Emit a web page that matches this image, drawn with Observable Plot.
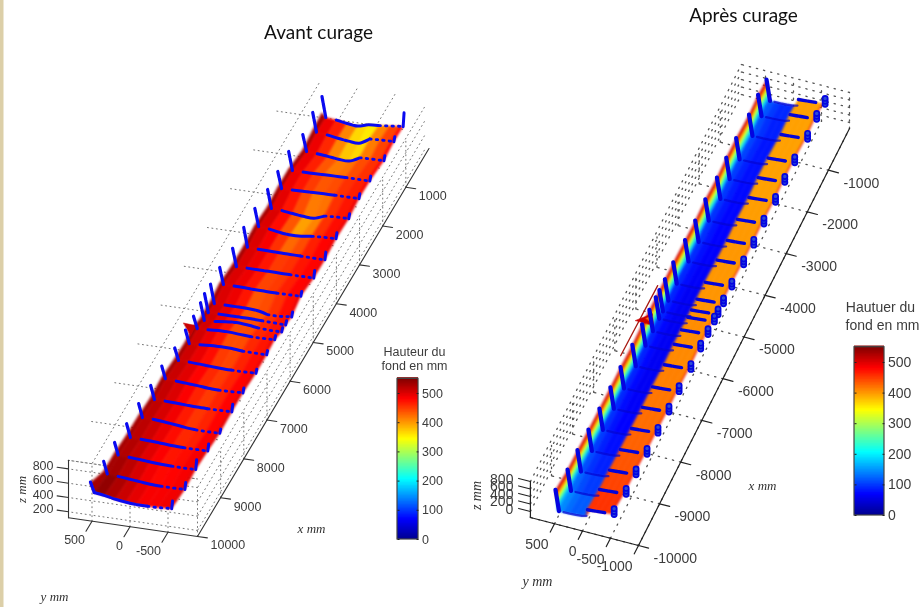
<!DOCTYPE html>
<html><head><meta charset="utf-8">
<script src="https://cdn.jsdelivr.net/npm/d3@7"></script>
<script src="https://cdn.jsdelivr.net/npm/@observablehq/plot@0.6"></script>
<style>
html,body{margin:0;padding:0;background:#fff;overflow:hidden}
svg{display:block;filter:blur(.35px)}
.surf{filter:blur(.8px)}
</style></head><body><div id="chart"></div>
<script>
// ---------- data (mm) ----------
const stationX = [0,400,830,1440,1910,2350,2900,3380,3860,4420,4815,5075,5248,5550,5897,6360,6920,7400,7920,8440,8960,9430,10000];

// "Avant curage": bed level at each station, across the channel
const avantY = [470,330,190,50,-90,-230,-370,-510];
const avantZ = [
[340,325,300,285,325,335,350,368],[348,335,310,292,283,365,372,376],[315,305,290,272,267,335,340,343],
[380,380,382,385,388,390,390,390],[383,385,388,392,395,398,398,398],[343,335,315,298,293,345,355,357],
[389,375,350,335,340,360,370,375],[355,352,350,348,345,345,340,340],[350,350,348,348,346,345,345,345],
[403,403,400,395,392,390,392,395],[351,351,351,351,340,305,300,320],[366,366,366,366,366,360,355,350],
[350,355,375,385,375,355,345,345],[400,405,415,415,405,395,395,400],[378,385,395,398,395,380,378,378],
[392,392,385,375,368,365,365,370],[431,430,420,410,395,390,392,400],[411,411,405,398,392,390,392,395],
[442,440,425,410,390,378,375,378],[445,443,435,425,415,410,410,412],[475,472,462,450,440,433,432,435],
[464,460,445,430,415,408,408,412],[522,500,470,450,438,438,440,452]];
const avantH = [
[490,470,420,380,380,420,450,480],[490,460,400,350,330,400,440,480],[490,460,420,400,400,430,450,480],
[490,470,450,430,440,450,460,480],[490,470,450,440,440,460,470,490],[500,470,430,390,400,450,470,490],
[500,480,440,400,420,460,480,490],[500,490,470,450,460,470,480,490],[500,490,470,450,450,470,480,490],
[500,490,470,440,450,460,480,490],[500,490,470,430,430,450,470,490],[505,490,470,440,440,460,470,490],
[505,490,470,440,440,460,470,490],[505,490,470,440,440,460,470,490],[505,490,470,440,440,460,470,490],
[510,495,480,460,450,465,480,495],[510,500,480,460,450,460,480,495],[515,500,485,465,450,465,480,495],
[515,505,490,470,455,460,480,495],[520,510,495,480,465,470,485,495],[525,515,500,485,475,480,485,495],
[535,520,505,490,480,480,485,495],[545,530,515,500,490,490,490,495]];
const avantEdgeZ = [395,368,330,390,390,360,395,370,370,410,370,380,370,420,395,410,450,430,460,470,500,500,650];
const avantWallTopZ = [626,620,545,639,614,601,634,629,596,634,614,625,590,565,560,560,610,600,630,630,650,640,660];
const avantRightWall = [196,70,70,70,70,70,85,110,110,70,70,60,60,60,60,60,70,110,60,100,140,100,110];
const avantTooth = [[650,450],[493,439],[559,290]];

// "Après curage": one section shape, lifted per station
const apresY = [482,475,468,461,454,446,340,230,120,10,-71,-89,-200,-310,-420,-518,-540];
const apresZ = [547,450,350,250,140,27,30,35,45,60,93,261,275,290,305,320,380];
const apresLift = [0,40,-10,40,40,0,30,0,10,40,30,30,30,30,30,0,30,20,35,50,80,85,180];
const apresWallH = [505,420,330,250,170];
const apresBedH = [92,88,82,78,75,72,70,68,66,64,62,62,62,62,62,62,64,66,72,80,92,108,128];
const apresBedOffset = [25,10,0,0,0];
const apresTerraceH = [395,395,395,395,395,395,398,400,400,400,402,402,405,405,405,410,415,420,425,432,440,450,458];
const apresEdgeH = 490;
const apresRightTopZ = 475;

const avantXTicks = [1000,2000,3000,4000,5000,6000,7000,8000,9000,10000];
const avantYTicks = [500,0,-500];
const avantZTicks = [200,400,600,800];
const apresXTicks = [-1000,-2000,-3000,-4000,-5000,-6000,-7000,-8000,-9000,-10000];
const apresYTicks = [500,0,-500,-1000];
const apresZTicks = [0,200,400,600,800];
const barTicks = [0,100,200,300,400,500];
const jetStops = [0,69,206,344,481,550];
const jetColors = ["#00008f","#0000ff","#00ffff","#ffff00","#ff0000","#800000"];

// ---------- view of each 3-D box ----------
const pA = (X,Y,Z)=>({px:361-.02315*X-.076*Y, py:146.5+.0388*X-.011*Y-.0715*Z});
const pB = (X,Y,Z)=>({px:793+.0211*X-.056*Y, py:107.5-.0417*X-.0145*Y-.0375*Z});

// ---------- surfaces ----------
const cellsA=[], cellsB=[];
const quad=(out,id,pts,h)=>pts.forEach(p=>out.push({...p,id,h}));
stationX.forEach((X,s)=>{
  if(s===stationX.length-1) return;
  const X2=stationX[s+1];
  const ys=[520,...avantY,-545];
  const za=[avantEdgeZ[s],...avantZ[s],avantZ[s][7]];
  const zb=[avantEdgeZ[s+1],...avantZ[s+1],avantZ[s+1][7]];
  const hs=[530,...avantH[s].map((v,i)=>(v+avantH[s+1][i])/2)];
  for(let c=0;c<ys.length-1;c++){
    quad(cellsA,`a${s}-${c}`,[pA(X,ys[c],za[c]),pA(X,ys[c+1],za[c+1]),pA(X2,ys[c+1],zb[c+1]),pA(X2,ys[c],zb[c])],hs[c]);
  }
  const la=apresLift[s], lb=apresLift[s+1];
  const bed=(apresBedH[s]+apresBedH[s+1])/2, ter=(apresTerraceH[s]+apresTerraceH[s+1])/2;
  const hb=[...apresWallH,...apresBedOffset.map(o=>bed+o),ter,ter,ter,ter,ter,apresEdgeH];
  for(let c=0;c<apresY.length-1;c++){
    quad(cellsB,`b${s}-${c}`,[pB(-X,apresY[c],apresZ[c]+la),pB(-X,apresY[c+1],apresZ[c+1]+la),pB(-X2,apresY[c+1],apresZ[c+1]+lb),pB(-X2,apresY[c],apresZ[c]+lb)],hb[c]);
  }
});
const toothA=avantTooth.map(([y,z])=>({...pA(5550,y,z),h:510}));
const toothB=[[750,160],[446,460],[430,150]].map(([y,z])=>({...pB(-5500,y,z),h:510}));
const toothB2=[[560,290],[446,400],[436,200]].map(([y,z])=>({...pB(-5500,y,z),h:420}));
const spikeB=[pB(-6600,600,500),pB(-4845,600,420)];

// ---------- measured sections (blue dots) ----------
const wallA=[],bedA=[],tailA=[],rightA=[],wallB=[],bedB=[],terB=[],ringB=[];
stationX.forEach((X,s)=>{
  const z=avantZ[s];
  wallA.push({...pA(X,520,avantWallTopZ[s]),s},{...pA(X,495,(avantWallTopZ[s]+z[0])/2),s},{...pA(X,470,z[0]),s});
  for(let c=(s===22?0:1);c<=5;c++) bedA.push({...pA(X,avantY[c],z[c]),s});
  for(let c=5;c<=7;c++) tailA.push({...pA(X,avantY[c],z[c]),s});
  rightA.push({...pA(X,-548,z[7]),s},{...pA(X,-560,z[7]+avantRightWall[s]),s});
  const l=apresLift[s];
  wallB.push({...pB(-X,apresY[0],apresZ[0]+l+25),s},{...pB(-X,420,apresZ[5]+l),s});
  for(let c=6;c<=10;c++) bedB.push({...pB(-X,apresY[c],apresZ[c]+l),s});
  for(let c=11;c<=14;c++) terB.push({...pB(-X,apresY[c],apresZ[c]+l),s});
  [apresZ[15],400,apresRightTopZ].forEach(v=>ringB.push({...pB(-X,-565,v+l),s}));
});

// ---------- grids, axes ----------
const seg=(list,id,a,b)=>{list.push({...a,id},{...b,id});};
const gridA=[],axisA=[],gridB=[],axisB=[];
const A={xMin:0,xStart:200,xMax:10000,yMin:-888,yMax:809,zMin:116,zMax:920};
const B={xMin:-10000,xMax:0,yMin:-1000,yMax:930,zMin:-160,zMax:800};
let n=0;
avantYTicks.forEach(y=>{seg(gridA,n++,pA(A.xStart,y,A.zMax),pA(A.xMax,y,A.zMax));
  seg(gridA,n++,pA(A.xMax,y,A.zMin),pA(A.xMax,y,A.zMax));});
avantXTicks.forEach(x=>{seg(gridA,n++,pA(x,A.yMax,A.zMax),pA(x,A.yMin,A.zMax));
  seg(gridA,n++,pA(x,A.yMin,A.zMin),pA(x,A.yMin,800));});
avantZTicks.forEach(z=>{seg(gridA,n++,pA(A.xMax,A.yMin,z),pA(A.xMax,A.yMax,z));
  seg(gridA,n++,pA(A.xStart,A.yMin,z),pA(A.xMax,A.yMin,z));});
seg(gridA,n++,pA(A.xMax,A.yMin,A.zMax),pA(A.xMax,A.yMax,A.zMax));
apresYTicks.forEach(y=>{seg(gridB,n++,pB(B.xMin,y,B.zMin),pB(B.xMax,y,B.zMin));
  seg(gridB,n++,pB(B.xMax,y,B.zMin),pB(B.xMax,y,B.zMax));});
apresXTicks.forEach(x=>{seg(gridB,n++,pB(x,B.yMin,B.zMin),pB(x,B.yMax,B.zMin));
  seg(gridB,n++,pB(x,B.yMax,B.zMin),pB(x,B.yMax,B.zMax));});
apresZTicks.forEach(z=>{seg(gridB,n++,pB(B.xMin,B.yMax,z),pB(B.xMax,B.yMax,z));
  seg(gridB,n++,pB(B.xMax,B.yMin,z),pB(B.xMax,B.yMax,z));});

seg(axisA,n++,pA(A.xMin,A.yMin,A.zMin),pA(A.xMax,A.yMin,A.zMin));
seg(axisA,n++,pA(A.xMax,A.yMin,A.zMin),pA(A.xMax,A.yMax,A.zMin));
seg(axisA,n++,pA(A.xMax,A.yMax,A.zMin),pA(A.xMax,A.yMax,A.zMax));
avantXTicks.forEach(x=>seg(axisA,n++,pA(x,A.yMin,A.zMin),pA(x,A.yMin-130,A.zMin)));
avantYTicks.forEach(y=>seg(axisA,n++,pA(A.xMax,y,A.zMin),pA(A.xMax+260,y,A.zMin)));
avantZTicks.forEach(z=>seg(axisA,n++,pA(A.xMax,A.yMax,z),pA(A.xMax,A.yMax+150,z)));
seg(axisB,n++,pB(B.xMin,B.yMin,B.zMin),pB(B.xMax,B.yMin,B.zMin));
seg(axisB,n++,pB(B.xMin,B.yMin,B.zMin),pB(B.xMin,B.yMax,B.zMin));
seg(axisB,n++,pB(B.xMin,B.yMax,B.zMin),pB(B.xMin,B.yMax,B.zMax));
apresXTicks.forEach(x=>seg(axisB,n++,pB(x,B.yMin,B.zMin),pB(x,B.yMin-180,B.zMin)));
apresYTicks.forEach(y=>seg(axisB,n++,pB(B.xMin,y,B.zMin),pB(B.xMin-200,y,B.zMin)));
apresZTicks.forEach(z=>seg(axisB,n++,pB(B.xMin,B.yMax,z),pB(B.xMin,B.yMax+210,z)));

const lab=(p,t)=>({...p,t:String(t)});
const sans="Liberation Sans", serif="Liberation Serif", ink="#3c3c3c";

// ---------- colour bars ----------
const steps=d3.range(0,546,5);
const bar=(x1,x2,y0,k)=>({x1,x2,yOf:v=>y0-v*k,y0,k});
const barA=bar(397,418,539,.292), barB=bar(854,884,515,.306);
const barMarks=(b,fs)=>[
  Plot.rect(steps,{x1:()=>b.x1,x2:()=>b.x2,y1:v=>b.yOf(v),y2:v=>b.yOf(v+5)-1.2,fill:v=>v+2.5}),
  Plot.rect([0],{x1:()=>b.x1,x2:()=>b.x2,y1:()=>b.yOf(0),y2:()=>b.yOf(550),stroke:"#444",strokeWidth:1.2,fill:"none"}),
  Plot.link(barTicks,{x1:()=>b.x1,x2:()=>b.x1+2,y1:v=>b.yOf(v),y2:v=>b.yOf(v),stroke:"#222"}),
  Plot.link(barTicks,{x1:()=>b.x2-2,x2:()=>b.x2,y1:v=>b.yOf(v),y2:v=>b.yOf(v),stroke:"#222"}),
  Plot.text(barTicks,{x:()=>b.x2+3.5,y:v=>b.yOf(v),text:v=>String(v),textAnchor:"start",fontSize:fs,fontFamily:sans,fill:ink})
];

const L=o=>({x:"px",y:"py",...o});
const chart=Plot.plot({
  width:924,height:607,margin:0,
  x:{domain:[0,924],axis:null},y:{domain:[607,0],axis:null},
  color:{type:"linear",domain:jetStops,range:jetColors,interpolate:"rgb"},
  style:{background:"#fff",overflow:"hidden"},
  marks:[
    Plot.rect([0],{x1:()=>0,x2:()=>3.5,y1:()=>0,y2:()=>607,fill:"#dccfa8"}),
    // dotted grids
    Plot.line(gridA,L({z:"id",stroke:"#777",strokeWidth:1,strokeDasharray:"1 3.5"})),
    Plot.line(gridB,L({z:"id",stroke:"#555",strokeWidth:1.3,strokeDasharray:"1.3 6"})),
    // surfaces
    Plot.line(cellsA,L({z:"id",fill:"h",stroke:"h",strokeWidth:.7,curve:"linear-closed",className:"surf"})),
    Plot.line(toothA,L({fill:"h",stroke:"h",strokeWidth:.5,curve:"linear-closed"})),
    Plot.line(cellsB,L({z:"id",fill:"h",stroke:"h",strokeWidth:.7,curve:"linear-closed",className:"surf"})),
    Plot.line(spikeB,L({stroke:"#a81a12",strokeWidth:1.3})),
    Plot.line(toothB,L({fill:"h",stroke:"h",strokeWidth:.5,curve:"linear-closed"})),
    Plot.line(toothB2,L({fill:"h",stroke:"h",strokeWidth:.5,curve:"linear-closed"})),
    // blue measured sections, left
    Plot.line(wallA,L({z:"s",stroke:"#0a0af0",strokeWidth:3.2,strokeDasharray:"6 1"})),
    Plot.line(bedA,L({z:"s",stroke:"#0a0af0",strokeWidth:3,strokeDasharray:"17 1.5 24 2 9 1",curve:"catmull-rom"})),
    Plot.line(tailA,L({z:"s",stroke:"#0a0af0",strokeWidth:2.8,strokeLinecap:"round",strokeDasharray:"1.5 5"})),
    Plot.line(rightA,L({z:"s",stroke:"#0a0af0",strokeWidth:3})),
    // blue measured sections, right
    Plot.line(bedB,L({z:"s",stroke:"#0404d0",strokeWidth:2.2,strokeOpacity:.7})),
    Plot.line(terB,L({z:"s",stroke:"#0404d8",strokeWidth:3.4,strokeDasharray:"8 1.5 8 30"})),
    Plot.line(wallB,L({z:"s",stroke:"#0404e0",strokeWidth:4.2,strokeLinecap:"round"})),
    Plot.dot(ringB,L({r:2.6,stroke:"#0404e0",strokeWidth:1.7,fill:"#2a4ad8"})),
    // axes
    Plot.line(axisA,L({z:"id",stroke:"#333",strokeWidth:1.1})),
    Plot.line(axisB,L({z:"id",stroke:"#222",strokeWidth:1.2})),
    Plot.text(avantXTicks.map(x=>lab(pA(x,A.yMin,A.zMin),x)),L({text:"t",dx:13,dy:9,textAnchor:"start",fontSize:12.5,fontFamily:sans,fill:ink})),
    Plot.text(avantYTicks.map(y=>lab(pA(A.xMax,y,A.zMin),y)),L({text:"t",dx:-7,dy:19,textAnchor:"end",fontSize:12.5,fontFamily:sans,fill:ink})),
    Plot.text(avantZTicks.map(z=>lab(pA(A.xMax,A.yMax,z),z)),L({text:"t",dx:-15,dy:-3,textAnchor:"end",fontSize:12.5,fontFamily:sans,fill:ink})),
    Plot.text(apresXTicks.map(x=>lab(pB(x,B.yMin,B.zMin),x)),L({text:"t",dx:15,dy:13,textAnchor:"start",fontSize:14,fontFamily:sans,fill:ink})),
    Plot.text(apresYTicks.map(y=>lab(pB(B.xMin,y,B.zMin),y)),L({text:"t",dx:-6,dy:21,textAnchor:"end",fontSize:14,fontFamily:sans,fill:ink})),
    Plot.text(apresZTicks.map(z=>lab(pB(B.xMin,B.yMax,z),z)),L({text:"t",dx:-17,dy:-2,textAnchor:"end",fontSize:14,fontFamily:sans,fill:ink})),
    // axis names and titles
    Plot.text(["x mm"],{x:()=>311,y:()=>528,fontFamily:serif,fontStyle:"italic",fontSize:13,fill:"#333"}),
    Plot.text(["y mm"],{x:()=>54,y:()=>596,fontFamily:serif,fontStyle:"italic",fontSize:13,fill:"#333"}),
    Plot.text(["z mm"],{x:()=>21,y:()=>489,rotate:-90,fontFamily:serif,fontStyle:"italic",fontSize:13,fill:"#333"}),
    Plot.text(["x mm"],{x:()=>762,y:()=>485,fontFamily:serif,fontStyle:"italic",fontSize:13,fill:"#333"}),
    Plot.text(["y mm"],{x:()=>537,y:()=>581,fontFamily:serif,fontStyle:"italic",fontSize:14,fill:"#333"}),
    Plot.text(["z mm"],{x:()=>476,y:()=>495,rotate:-90,fontFamily:serif,fontStyle:"italic",fontSize:14,fill:"#333"}),
    Plot.text(["Avant curage"],{x:()=>318,y:()=>32,fontFamily:"Lato",fontSize:19,fill:"#111"}),
    Plot.text(["Après curage"],{x:()=>743,y:()=>15,fontFamily:"Lato",fontSize:19,fill:"#111"}),
    Plot.text(["Hauteur du"],{x:()=>414,y:()=>351,fontFamily:sans,fontSize:12.5,fill:ink}),
    Plot.text(["fond en mm"],{x:()=>414,y:()=>365,fontFamily:sans,fontSize:12.5,fill:ink}),
    Plot.text(["Hautuer du"],{x:()=>880,y:()=>307,fontFamily:sans,fontSize:14,fill:ink}),
    Plot.text(["fond en mm"],{x:()=>882,y:()=>325,fontFamily:sans,fontSize:14,fill:ink}),
    ...barMarks(barA,12.5),
    ...barMarks(barB,14)
  ]
});
document.getElementById("chart").append(chart);
</script></body></html>
